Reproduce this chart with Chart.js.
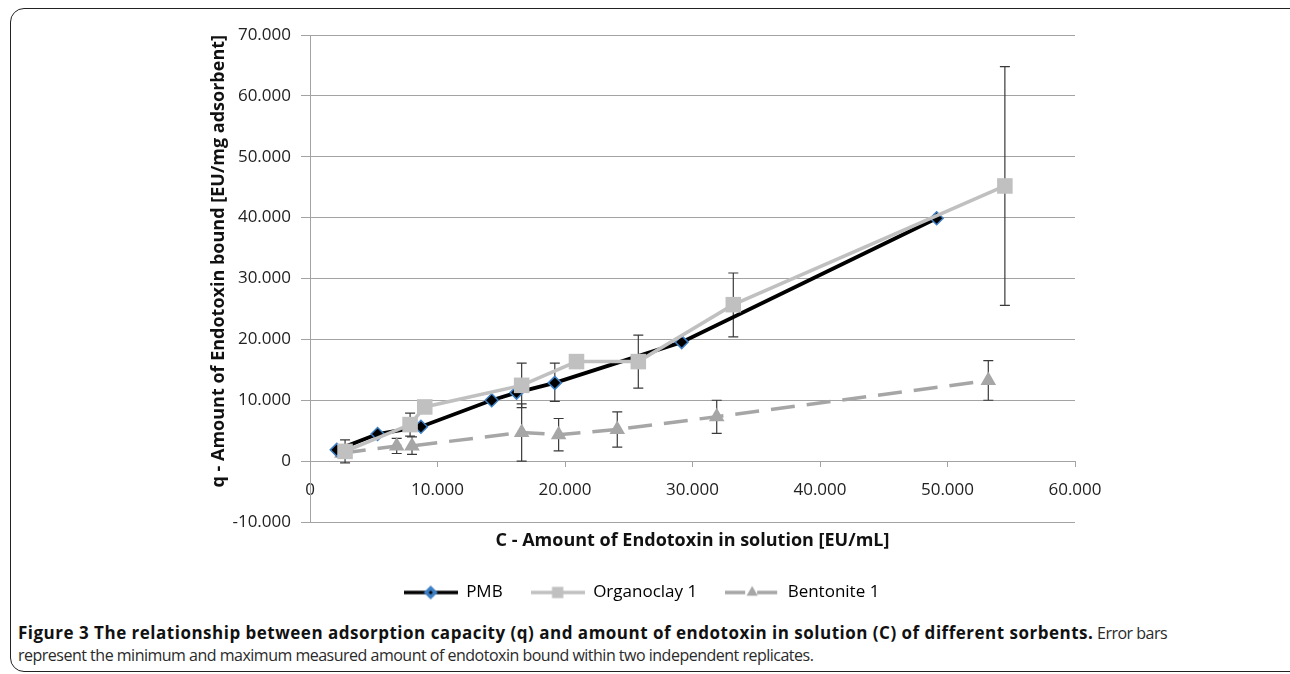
<!DOCTYPE html>
<html>
<head>
<meta charset="utf-8">
<script src="https://cdn.jsdelivr.net/npm/chart.js@4.4.1/dist/chart.umd.min.js"></script>
<style>
  html, body { margin: 0; padding: 0; background: #fff; width: 1290px; height: 674px; overflow: hidden; }
  #frame { position: absolute; left: 10px; top: 8px; width: 1300px; height: 664px; border: 1.5px solid #222; border-radius: 14px; box-sizing: border-box; }
  #wrap { position: absolute; left: 0; top: 0; width: 1290px; height: 611px; }
  #caption { position: absolute; left: 18px; top: 622px; font-family: 'Open Sans', sans-serif; font-size: 16px; letter-spacing: -0.5px; line-height: 22px; color: #2a2a2a; white-space: nowrap; }
  #caption b { color: #111; font-size: 17px; letter-spacing: 0.5px; }
</style>
</head>
<body>
<div id="frame"></div>
<div id="wrap"><canvas id="chart"></canvas></div>
<div id="caption"><b>Figure 3 The relationship between adsorption capacity (q) and amount of endotoxin in solution (C) of different sorbents.</b> Error bars<br>represent the minimum and maximum measured amount of endotoxin bound within two independent replicates.</div>

<script>
// C [EU/mL] and q [EU/mg]
const pmbC = [2100, 5300, 8700, 14250, 16200, 19200, 29150, 49150];
const pmbQ = [1850, 4450, 5650, 10000, 11250, 12850, 19550, 39900];
const pmbLow = [null, null, null, null, null, 9800, null, null];
const pmbHigh = [null, null, null, null, null, 16100, null, null];

const orgC = [2750, 7850, 9000, 16600, 20900, 25750, 33200, 54500];
const orgQ = [1600, 6000, 8900, 12450, 16350, 16350, 25700, 45200];
const orgLow = [-300, 4100, null, 8800, null, 12000, 20400, 25600];
const orgHigh = [3500, 7900, null, 16100, null, 20700, 30900, 64800];

const benC = [2500, 6800, 8000, 16600, 19500, 24100, 31900, 53200];
const benQ = [1300, 2500, 2500, 4700, 4350, 5200, 7300, 13250];
const benLow = [null, 1250, 1100, 0, 1700, 2300, 4550, 10000];
const benHigh = [null, 3750, 4000, 9400, 7000, 8100, 10000, 16500];

const seriesNames = ['PMB', 'Organoclay 1', 'Bentonite 1'];
const yTicks = [-10000, 0, 10000, 20000, 30000, 40000, 50000, 60000, 70000];
const xTicks = [0, 10000, 20000, 30000, 40000, 50000, 60000];

const errBars = [[pmbLow, pmbHigh], [orgLow, orgHigh], [benLow, benHigh]];

const gridColor = '#a3a3a3';
const textColor = '#222';
const fontFamily = "'Open Sans', sans-serif";

// 70000 -> "70.000", like the original number format
function fmt(v) {
  const s = Math.abs(Math.round(v)).toString().replace(/\B(?=(\d{3})+(?!\d))/g, '.');
  return (v < 0 ? '-' : '') + s;
}

function points(xs, ys) {
  return xs.map((x, i) => ({ x: x, y: ys[i] }));
}

// min/max bars, drawn under the markers
const errorBarPlugin = {
  id: 'errorBars',
  beforeDatasetsDraw(chart) {
    const ctx = chart.ctx;
    const xs = chart.scales.x;
    const ys = chart.scales.y;
    ctx.save();
    ctx.strokeStyle = '#3a3a3a';
    ctx.lineWidth = 1.2;
    chart.data.datasets.forEach((ds, d) => {
      const [low, high] = errBars[d];
      ds.data.forEach((p, i) => {
        if (low[i] == null || high[i] == null) return;
        const x = xs.getPixelForValue(p.x);
        const y1 = ys.getPixelForValue(low[i]);
        const y2 = ys.getPixelForValue(high[i]);
        ctx.beginPath();
        ctx.moveTo(x, y1); ctx.lineTo(x, y2);
        ctx.moveTo(x - 5, y1); ctx.lineTo(x + 5, y1);
        ctx.moveTo(x - 5, y2); ctx.lineTo(x + 5, y2);
        ctx.stroke();
      });
    });
    ctx.restore();
  }
};

// legend swatch: line with marker in the middle
function legendIcon(color, dash, marker) {
  const c = document.createElement('canvas');
  c.width = 54; c.height = 18;
  const g = c.getContext('2d');
  g.strokeStyle = color;
  g.lineWidth = 3.5;
  g.setLineDash(dash);
  g.beginPath(); g.moveTo(0, 9); g.lineTo(54, 9); g.stroke();
  g.setLineDash([]);
  g.fillStyle = marker.fill;
  g.strokeStyle = marker.stroke;
  Chart.helpers.drawPoint(g, { pointStyle: marker.style, radius: marker.radius, rotation: 0, borderWidth: marker.borderWidth }, 27, 9);
  return c;
}

const legendIcons = [
  legendIcon('#000', [], { style: 'rectRot', radius: 4.5, fill: '#000', stroke: '#3d7fc4', borderWidth: 1 }),
  legendIcon('#c0c0c0', [], { style: 'rect', radius: 8, fill: '#c0c0c0', stroke: '#c0c0c0', borderWidth: 0 }),
  legendIcon('#a6a6a6', [20, 12], { style: 'triangle', radius: 6.5, fill: '#a6a6a6', stroke: '#a6a6a6', borderWidth: 0 })
];

new Chart(document.getElementById('chart'), {
  type: 'scatter',
  data: {
    datasets: [
      {
        label: seriesNames[0],
        data: points(pmbC, pmbQ),
        showLine: true,
        borderColor: '#000',
        backgroundColor: '#000',
        borderWidth: 3.8,
        pointStyle: 'rectRot',
        pointRadius: 6.5,
        pointBackgroundColor: '#000',
        pointBorderColor: '#3d7fc4',
        pointBorderWidth: 1.5,
        order: 1
      },
      {
        label: seriesNames[1],
        data: points(orgC, orgQ),
        showLine: true,
        borderColor: '#c0c0c0',
        backgroundColor: '#c0c0c0',
        borderWidth: 3.5,
        pointStyle: 'rect',
        pointRadius: 11,
        pointBackgroundColor: '#c0c0c0',
        pointBorderWidth: 0,
        order: 0
      },
      {
        label: seriesNames[2],
        data: points(benC, benQ),
        showLine: true,
        borderColor: '#a6a6a6',
        backgroundColor: '#a6a6a6',
        borderWidth: 3.5,
        borderDash: [24, 12],
        pointStyle: 'triangle',
        pointRadius: 9,
        pointBackgroundColor: '#a6a6a6',
        pointBorderWidth: 0,
        order: 2
      }
    ]
  },
  options: {
    responsive: true,
    maintainAspectRatio: false,
    animation: false,
    layout: { padding: { left: 208, right: 215, top: 35, bottom: 0 } },
    plugins: {
      tooltip: { enabled: false },
      legend: {
        position: 'bottom',
        labels: {
          usePointStyle: true,
          pointStyleWidth: 54,
          padding: 28,
          color: '#000',
          font: { family: fontFamily, size: 17 },
          sort: (a, b) => a.datasetIndex - b.datasetIndex,
          generateLabels(chart) {
            const items = Chart.defaults.plugins.legend.labels.generateLabels(chart);
            items.forEach(it => { it.pointStyle = legendIcons[it.datasetIndex]; });
            return items;
          }
        }
      }
    },
    scales: {
      x: {
        type: 'linear',
        position: { y: 0 },
        min: xTicks[0],
        max: xTicks[xTicks.length - 1],
        afterBuildTicks(s) { s.ticks = xTicks.map(v => ({ value: v })); },
        ticks: { callback: fmt, color: textColor, font: { family: fontFamily, size: 17 }, padding: 14, maxRotation: 0 },
        grid: { drawOnChartArea: false, drawTicks: true, tickLength: 5, color: gridColor },
        border: { display: true, color: gridColor }
      },
      xt: {
        type: 'linear',
        position: 'bottom',
        min: xTicks[0],
        max: xTicks[xTicks.length - 1],
        ticks: { display: false },
        grid: { display: false, drawTicks: false },
        border: { display: false },
        title: {
          display: true,
          text: 'C - Amount of Endotoxin in solution [EU/mL]',
          color: '#111',
          font: { family: fontFamily, size: 18, weight: 'bold' },
          padding: { top: 8.2, bottom: 4.2 }
        }
      },
      y: {
        type: 'linear',
        min: yTicks[0],
        max: yTicks[yTicks.length - 1],
        afterBuildTicks(s) { s.ticks = yTicks.map(v => ({ value: v })); },
        ticks: { callback: fmt, color: textColor, font: { family: fontFamily, size: 17 }, padding: 10 },
        grid: { color: gridColor, tickLength: 9, lineWidth: 1 },
        border: { display: true, color: gridColor },
        title: {
          display: true,
          text: 'q - Amount of Endotoxin bound [EU/mg adsorbent]',
          align: 'end',
          color: '#111',
          font: { family: fontFamily, size: 18, weight: 'bold' },
          padding: { top: 0, bottom: 0 }
        },
        afterFit(s) { s.width = 102; }
      }
    }
  },
  plugins: [errorBarPlugin]
});
</script>
</body>
</html>
